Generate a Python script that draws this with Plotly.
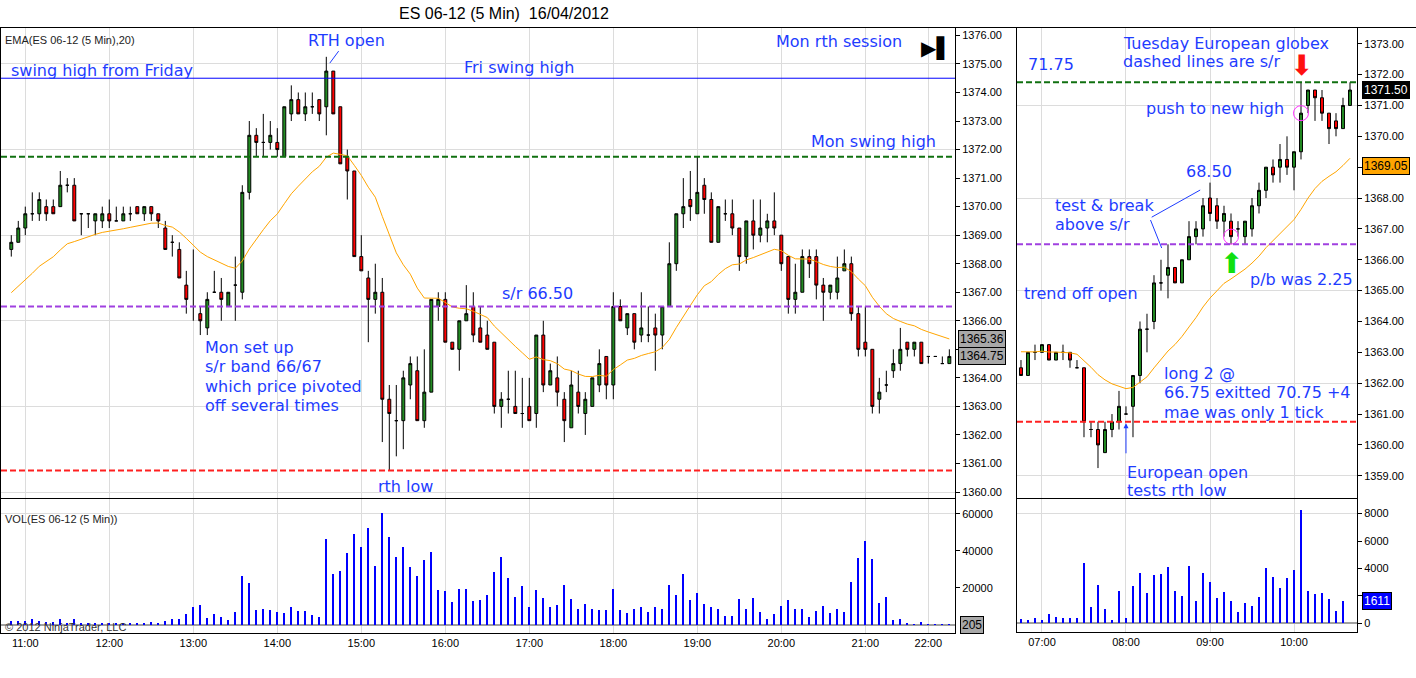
import plotly.graph_objects as go

W, H = 1416, 678

# ---- Monday 16/04/2012, 5 min bars (bar 0 closes 10:50) ----
L_OPEN = [
    1368.5, 1368.75, 1369.25, 1369.75, 1369.75, 1370, 1370, 1370, 1370.75, 1370.75,
    1369.75, 1369.75, 1369.5, 1369.5, 1369.75, 1369.5, 1369.5, 1369.75, 1370, 1369.75,
    1370, 1369.75, 1369.25, 1368.75, 1368.5, 1367.25, 1366.5, 1366.25, 1365.75, 1367,
    1367, 1366.5, 1367.25, 1367, 1370.5, 1372.5, 1372.25, 1372.25, 1372.25, 1371.75,
    1373.25, 1373.75, 1373.25, 1373.5, 1373.75, 1373.5, 1374.75, 1373.5, 1371.75, 1371.25,
    1368.25, 1367.5, 1366.75, 1367, 1363.25, 1362.5, 1362.5, 1363.75, 1364.25, 1362.5,
    1363.5, 1366.5, 1366.75, 1365.25, 1365, 1366, 1366.5, 1365.75, 1365.5, 1365.25,
    1363, 1363.25, 1363, 1362.75, 1363, 1362.75, 1365.5, 1363.75, 1364, 1363.25,
    1362.25, 1363.5, 1362.75, 1363, 1363.75, 1364.75, 1363.75, 1366.5, 1365.75, 1366.25,
    1365.5, 1365.5, 1365.75, 1365.5, 1366.5, 1368, 1369.75, 1370.25, 1369.75, 1370.75,
    1370.25, 1368.75, 1369.75, 1369.75, 1369.25, 1368.25, 1369.5, 1369, 1369.25, 1369.5,
    1369, 1368.25, 1366.75, 1367, 1368.25, 1368.25, 1367.25, 1367, 1367, 1367.75,
    1368, 1366.25, 1365.25, 1365, 1363.25, 1363.75, 1364.25, 1364.5, 1365.25, 1365,
    1365.25, 1364.75, 1364.75, 1364.5, 1364.5,
]
L_HIGH = [
    1369, 1369.5, 1370, 1370.5, 1370.5, 1370.25, 1370.25, 1371.25, 1371, 1371,
    1369.75, 1369.75, 1369.75, 1370, 1370.25, 1370, 1370, 1370, 1370, 1370,
    1370, 1369.75, 1369.5, 1369, 1368.75, 1367.75, 1368.5, 1366.5, 1367, 1367.75,
    1367.5, 1367, 1368.25, 1370.75, 1373, 1372.75, 1373.25, 1373, 1372.75, 1373.5,
    1374.25, 1374, 1374, 1374, 1373.75, 1375.25, 1374.75, 1373.5, 1372, 1371.25,
    1369, 1367.75, 1368, 1367.5, 1363.75, 1363.75, 1364.25, 1364.75, 1364.75, 1365,
    1366.75, 1367, 1367, 1365.25, 1366, 1367.25, 1367, 1366.5, 1366, 1365.25,
    1363.5, 1364.25, 1364.25, 1364, 1364, 1365.5, 1366, 1364.5, 1364.75, 1363.5,
    1364.25, 1364.25, 1363.5, 1364, 1365, 1364.75, 1367, 1366.75, 1366.25, 1366.25,
    1367, 1366.5, 1366.25, 1366.5, 1368.75, 1369.75, 1371, 1371.25, 1371.75, 1371,
    1370.5, 1370, 1370.25, 1370.25, 1369.25, 1369.5, 1370.25, 1370.25, 1369.75, 1370.5,
    1369, 1368.25, 1368, 1368.5, 1368.5, 1368.5, 1367.5, 1367.25, 1368.25, 1368.5,
    1368.25, 1366.5, 1366.5, 1365, 1364, 1364.25, 1365, 1365.75, 1365.25, 1365.25,
    1365.25, 1364.75, 1364.75, 1364.75, 1365,
]
L_LOW = [
    1368.25, 1368.75, 1369, 1369.5, 1369.5, 1369.5, 1369.75, 1370, 1370.5, 1369.5,
    1369, 1369.25, 1369, 1369.25, 1369.25, 1369.5, 1369.5, 1369.5, 1369.75, 1369.5,
    1369.5, 1369.25, 1368.5, 1368.25, 1367.5, 1366.25, 1366, 1365.5, 1365.5, 1367,
    1366, 1366.5, 1366, 1366.75, 1370.25, 1371.75, 1371.75, 1372, 1371.75, 1371.75,
    1373, 1373.25, 1373, 1373.25, 1373, 1372.5, 1373.25, 1371.5, 1370.25, 1368.25,
    1367.75, 1365.25, 1366.25, 1361.75, 1360.75, 1361.25, 1361.5, 1363.25, 1362.5, 1362.25,
    1363.5, 1366, 1365.25, 1365, 1364.25, 1366, 1365.25, 1365.25, 1365, 1362.75,
    1362.25, 1362.75, 1362.75, 1362.25, 1362.5, 1362.25, 1363.5, 1363.75, 1363, 1361.75,
    1362.25, 1362.75, 1362, 1363, 1363.5, 1363.25, 1363.25, 1366, 1365.5, 1365,
    1365.25, 1365.25, 1364.25, 1365, 1366.5, 1367.75, 1369.25, 1369.5, 1369.75, 1369.75,
    1368.75, 1368.75, 1369.5, 1369, 1367.75, 1368, 1368.5, 1368.75, 1368.75, 1369,
    1367.75, 1366.25, 1366.25, 1367, 1367.5, 1366.75, 1366, 1366.75, 1366.75, 1367.75,
    1366, 1364.75, 1364.75, 1362.75, 1362.75, 1363.5, 1364, 1364.25, 1364.75, 1364.75,
    1364.5, 1364.5, 1364.75, 1364.5, 1364.5,
]
L_CLOSE = [
    1368.75, 1369.25, 1369.75, 1369.75, 1370.25, 1369.75, 1369.75, 1370.75, 1370.75, 1369.5,
    1369.75, 1369.75, 1369.75, 1369.75, 1369.5, 1369.5, 1369.75, 1369.75, 1369.75, 1370,
    1369.75, 1369.5, 1368.5, 1368.75, 1367.5, 1366.75, 1366.5, 1366, 1366.75, 1367,
    1366.75, 1367, 1367.25, 1370.5, 1372.5, 1372.25, 1372.25, 1372.5, 1372, 1373.5,
    1373.75, 1373.25, 1373.5, 1373.5, 1373.25, 1374.75, 1373.25, 1371.5, 1371.25, 1368.25,
    1367.75, 1366.75, 1367, 1363.25, 1362.75, 1362.5, 1364, 1364.5, 1362.5, 1363.5,
    1366.75, 1366.75, 1365.25, 1365, 1366, 1366.25, 1365.5, 1365.25, 1365, 1363,
    1363.25, 1363.25, 1362.75, 1362.75, 1362.5, 1365.5, 1363.75, 1364.25, 1363.5, 1362.5,
    1363.75, 1363, 1363.25, 1364, 1364.5, 1363.75, 1366.5, 1366, 1366.25, 1365.25,
    1365.75, 1365.5, 1365.5, 1366.5, 1368, 1369.75, 1370, 1370, 1370.5, 1370.25,
    1368.75, 1370, 1369.75, 1369.25, 1368.25, 1369.5, 1369, 1369.25, 1369.5, 1369.25,
    1368, 1366.75, 1367, 1368.25, 1368, 1367.25, 1367, 1367.25, 1367.5, 1368,
    1366.25, 1365, 1365, 1363, 1363.5, 1363.75, 1364.5, 1365, 1365, 1365.25,
    1364.5, 1364.75, 1364.75, 1364.5, 1364.75,
]
L_VOL = [
    2000, 2000, 2000, 3200, 2000, 1600, 1600, 3200, 1300, 3200,
    900, 800, 1000, 900, 800, 900, 1000, 900, 1100, 1000,
    1400, 1100, 2100, 3200, 3200, 5900, 9600, 10700, 3700, 5900,
    4500, 2700, 7000, 26300, 22500, 8000, 8600, 8000, 7000, 6400,
    9600, 7500, 7300, 5400, 4500, 46100, 27300, 28900, 38600, 48800,
    42300, 52500, 31600, 60500, 47700, 36400, 41800, 31100, 26300, 34800,
    39600, 18800, 18200, 12300, 19300, 19300, 12900, 13400, 16100, 28400,
    36400, 25200, 15000, 20900, 9600, 18800, 14500, 9600, 10700, 21400,
    13900, 8600, 11300, 8600, 8000, 8000, 19300, 8000, 6400, 8600,
    9600, 7000, 9600, 8600, 21400, 16100, 27300, 13400, 17100, 11300,
    9600, 8600, 4800, 4800, 13900, 8600, 14500, 7000, 3200, 5900,
    10200, 13400, 8600, 8600, 4300, 7500, 10200, 6400, 8600, 7000,
    23000, 35900, 45500, 35400, 11800, 15000, 2700, 3200, 1100, 400,
    1600, 300, 150, 250, 205,
]
L_TICK_POS = [2, 14, 26, 38, 50, 62, 74, 86, 98, 110, 122, 131]
L_TICK_TEXT = ["11:00", "12:00", "13:00", "14:00", "15:00", "16:00",
               "17:00", "18:00", "19:00", "20:00", "21:00", "22:00"]
L_EMA_SEED = 1366.8
L_EMA_TAG = 1365.36

# ---- Tuesday European globex (bar 0 closes 06:45) ----
R_OPEN = [
    1362.5, 1362.25, 1363, 1363, 1363.25, 1362.75, 1363, 1363, 1362.5, 1362.5,
    1360.5, 1360.5, 1359.75, 1360.5, 1360.75, 1361, 1361.25, 1362.25, 1363.75, 1364,
    1365.25, 1365.5, 1365.75, 1365.25, 1366, 1366.75, 1367, 1368, 1367.75, 1367.25,
    1367.25, 1367, 1366.75, 1367, 1367.75, 1368.25, 1369, 1369, 1369.25, 1369,
    1369.5, 1371, 1371.5, 1371.25, 1370.75, 1370.5, 1370.25, 1371,
]
R_HIGH = [
    1362.75, 1363, 1363.25, 1363.25, 1363.25, 1363, 1363.25, 1363, 1362.75, 1362.5,
    1360.75, 1360.75, 1360.75, 1361, 1361.75, 1361.25, 1362.25, 1364, 1364.25, 1365.5,
    1366, 1366.5, 1365.75, 1366, 1367.25, 1367.25, 1368, 1368.5, 1368, 1367.75,
    1367.5, 1367.25, 1367.25, 1368, 1368.5, 1369, 1369.25, 1369.75, 1370, 1369.5,
    1371.75, 1371.5, 1371.5, 1371.5, 1370.75, 1370.75, 1371.25, 1371.75,
]
R_LOW = [
    1362.25, 1362.25, 1362.75, 1363, 1362.75, 1362.75, 1362.75, 1362.5, 1362.5, 1360.25,
    1360.25, 1359.25, 1359.75, 1360.25, 1360.5, 1361, 1360.25, 1362, 1363, 1363.75,
    1365, 1364.75, 1365.25, 1365.25, 1366, 1366.5, 1366.75, 1367.25, 1367, 1366.75,
    1366.5, 1366.75, 1366.5, 1366.75, 1367.5, 1368, 1368.5, 1368.5, 1368.75, 1368.25,
    1369.25, 1370.75, 1370.5, 1370.5, 1369.75, 1370, 1370.25, 1371,
]
R_CLOSE = [
    1362.25, 1363, 1363, 1363.25, 1362.75, 1363, 1363, 1362.75, 1362.5, 1360.75,
    1360.5, 1360, 1360.5, 1360.75, 1361.25, 1361, 1362.25, 1363.75, 1363.75, 1365.25,
    1365.25, 1365.75, 1365.25, 1366, 1366.75, 1367, 1367.75, 1367.5, 1367.25, 1367.5,
    1366.75, 1367, 1367.25, 1367.75, 1368.25, 1369, 1368.75, 1369.25, 1369, 1369.5,
    1370.75, 1371.5, 1371.25, 1370.75, 1370.25, 1370.25, 1371, 1371.5,
]
R_VOL = [
    300, 250, 370, 250, 660, 440, 370, 370, 370, 4400,
    1170, 2780, 1020, 220, 2340, 370, 2710, 3660, 2200, 3510,
    3590, 4100, 2340, 1980, 4170, 1610, 3660, 3000, 1830, 2270,
    1610, 800, 1460, 1240, 1900, 4030, 3370, 2560, 3290, 3880,
    8270, 2340, 2120, 2200, 1760, 880, 1611, None,
]
R_TICK_POS = [3, 15, 27, 39]
R_TICK_TEXT = ["07:00", "08:00", "09:00", "10:00"]
R_EMA_SEED = 1363.1
R_EMA_TAG = 1369.05

# trade marks: entry 66.75 after the 2.25 pullback, exit 70.75
TRADE_BAR = [30, 40]
TRADE_PRICE = [1366.75, 1370.75]

# levels
FRI_SWING_HIGH = 1374.5
MON_SWING_HIGH = 1371.75
SR_LEVEL = 1366.5
RTH_LOW = 1360.75

BLUE = "#1e3cff"
GRID = "#dcdcdc"
TXT = "DejaVu Sans"
AX = "Liberation Sans"


def ema(values, seed, n=20):
    a = 2 / (n + 1)
    out, e = [], seed
    for v in values:
        e += a * (v - e)
        out.append(e)
    return out


def xd(a, b):
    return [a / W, b / W]


def yd(top, bottom):
    return [1 - bottom / H, 1 - top / H]


def note(x, y, text, size=16, color=BLUE, anchor="left", family=TXT):
    return dict(x=x / W, y=1 - y / H, xref="paper", yref="paper", text=text,
                showarrow=False, xanchor=anchor, yanchor="middle",
                font=dict(family=family, size=size, color=color))


def tag(x, yref, yval, text, bg, fg):
    return dict(x=x / W, xref="paper", y=yval, yref=yref, text=text, showarrow=False,
                xanchor="left", yanchor="middle", bgcolor=bg, bordercolor="black",
                borderwidth=1, borderpad=1, font=dict(family=AX, size=12, color=fg))


L_IDX = list(range(len(L_OPEN)))
R_IDX = list(range(len(R_OPEN)))
candle_style = dict(
    increasing=dict(fillcolor="#228b22", line=dict(color="black", width=1)),
    decreasing=dict(fillcolor="#ff0000", line=dict(color="black", width=1)),
    whiskerwidth=0, showlegend=False, hoverinfo="skip",
)

fig = go.Figure()
fig.add_trace(go.Candlestick(x=L_IDX, open=L_OPEN, high=L_HIGH, low=L_LOW, close=L_CLOSE,
                             xaxis="x", yaxis="y", **candle_style))
fig.add_trace(go.Scatter(x=L_IDX, y=ema(L_CLOSE, L_EMA_SEED), mode="lines",
                         line=dict(color="#ffa500", width=1), xaxis="x", yaxis="y", showlegend=False))
fig.add_trace(go.Bar(x=L_IDX, y=L_VOL, width=0.3, marker=dict(color="#0000ff", line=dict(width=0)),
                     xaxis="x2", yaxis="y2", showlegend=False))

fig.add_trace(go.Candlestick(x=R_IDX, open=R_OPEN, high=R_HIGH, low=R_LOW, close=R_CLOSE,
                             xaxis="x3", yaxis="y3", **candle_style))
fig.add_trace(go.Scatter(x=R_IDX, y=ema(R_CLOSE, R_EMA_SEED), mode="lines",
                         line=dict(color="#ffa500", width=1), xaxis="x3", yaxis="y3", showlegend=False))
fig.add_trace(go.Scatter(x=TRADE_BAR, y=TRADE_PRICE, mode="markers",
                         marker=dict(symbol="circle-open", size=15, color="#ff33ff", line=dict(width=1)),
                         xaxis="x3", yaxis="y3", showlegend=False))
fig.add_trace(go.Bar(x=R_IDX, y=R_VOL, width=0.3, marker=dict(color="#0000ff", line=dict(width=0)),
                     xaxis="x4", yaxis="y4", showlegend=False))
# empty traces so the grid-only overlay axes get drawn
for ya, xa in (("y5", "x"), ("y6", "x3"), ("y7", "x2"), ("y8", "x4")):
    fig.add_trace(go.Scatter(x=[], y=[], xaxis=xa, yaxis=ya, showlegend=False))

# horizontal s/r lines
dash = "6px,3px"
for xa, ya, lvl, col, dsh, wd in [
    ("x", "y", FRI_SWING_HIGH, "#0000ff", "solid", 1),
    ("x", "y", MON_SWING_HIGH, "#107010", dash, 2),
    ("x", "y", SR_LEVEL, "#a040e0", dash, 2),
    ("x", "y", RTH_LOW, "#ff2020", dash, 2),
    ("x3", "y3", MON_SWING_HIGH, "#107010", dash, 2),
    ("x3", "y3", SR_LEVEL, "#a040e0", dash, 2),
    ("x3", "y3", RTH_LOW, "#ff2020", dash, 2),
]:
    fig.add_shape(type="line", xref=f"{xa} domain", yref=ya, x0=0, x1=1, y0=lvl, y1=lvl,
                  line=dict(color=col, width=wd, dash=dsh), layer="above")
fig.add_shape(type="line", xref="paper", yref="paper", x0=0, x1=1, y0=1 - 27.5 / H, y1=1 - 27.5 / H,
              line=dict(color="black", width=1))

tickfont = dict(family=AX, size=11, color="black")
frame = dict(showline=True, linecolor="black", linewidth=1, mirror=True, zeroline=False, fixedrange=True)

L_XR = [-1.47, 134.81]
R_XR = [-0.57, 48.0]
L_YR = [1359.79, 1376.26]
R_YR = [1358.28, 1373.51]
L_VR = [-4312, 67914]
R_VR = [-634, 9062]

fig.update_layout(
    width=W, height=H, margin=dict(l=0, r=0, t=0, b=0),
    paper_bgcolor="white", plot_bgcolor="white", showlegend=False,
    boxgap=0.4, bargap=0, hovermode=False,
    xaxis=dict(domain=xd(1, 955), range=L_XR, anchor="y", tickvals=L_TICK_POS, showticklabels=False,
               ticks="", showgrid=True, gridcolor=GRID, rangeslider=dict(visible=False), **frame),
    yaxis=dict(domain=yd(28, 498), range=L_YR, anchor="x", side="right", dtick=1, tickformat=".2f",
               ticks="outside", ticklen=4, tickcolor="black", showgrid=False, tickfont=tickfont, **frame),
    yaxis5=dict(overlaying="y", anchor="x", range=L_YR, tickvals=list(range(1360, 1377, 3)),
                showticklabels=False, ticks="", showgrid=True, gridcolor=GRID, zeroline=False, side="right"),
    xaxis2=dict(domain=xd(1, 955), range=L_XR, anchor="y2", tickvals=L_TICK_POS, ticktext=L_TICK_TEXT,
                ticks="", showgrid=True, gridcolor=GRID, tickfont=tickfont, **frame),
    # the 0 label sits under the last-volume tag, so only the upper values are labelled
    yaxis2=dict(domain=yd(499, 633), range=L_VR, anchor="x2", side="right",
                tickvals=[20000, 40000, 60000], tickformat="d", ticks="outside", ticklen=4,
                tickcolor="black", showgrid=False, tickfont=tickfont,
                showline=True, linecolor="black", mirror=True, fixedrange=True,
                zeroline=True, zerolinecolor="#a0a0a0", zerolinewidth=1.5),
    yaxis7=dict(overlaying="y2", anchor="x2", range=L_VR, tickvals=[60000], showticklabels=False,
                ticks="", showgrid=True, gridcolor=GRID, zeroline=False, side="right"),
    xaxis3=dict(domain=xd(1017, 1357), range=R_XR, anchor="y3", tickvals=R_TICK_POS, showticklabels=False,
                ticks="", showgrid=True, gridcolor=GRID, rangeslider=dict(visible=False), **frame),
    yaxis3=dict(domain=yd(28, 498), range=R_YR, anchor="x3", side="right", dtick=1, tickformat=".2f",
                ticks="outside", ticklen=4, tickcolor="black", showgrid=False, tickfont=tickfont, **frame),
    yaxis6=dict(overlaying="y3", anchor="x3", range=R_YR, tickvals=list(range(1359, 1374, 3)),
                showticklabels=False, ticks="", showgrid=True, gridcolor=GRID, zeroline=False, side="right"),
    xaxis4=dict(domain=xd(1017, 1357), range=R_XR, anchor="y4", tickvals=R_TICK_POS, ticktext=R_TICK_TEXT,
                ticks="", showgrid=True, gridcolor=GRID, tickfont=tickfont, **frame),
    yaxis4=dict(domain=yd(499, 632), range=R_VR, anchor="x4", side="right",
                tickvals=[0, 2000, 4000, 6000, 8000], tickformat="d", ticks="outside", ticklen=4,
                tickcolor="black", showgrid=False, tickfont=tickfont,
                showline=True, linecolor="black", mirror=True, fixedrange=True,
                zeroline=True, zerolinecolor="#a0a0a0", zerolinewidth=1.5),
    yaxis8=dict(overlaying="y4", anchor="x4", range=R_VR, tickvals=[8000], showticklabels=False,
                ticks="", showgrid=True, gridcolor=GRID, zeroline=False, side="right"),
)

notes = [
    note(504, 14, "ES 06-12 (5 Min)\u00a0 16/04/2012", size=16, color="black", anchor="center", family=AX),
    note(3, 40, "EMA(ES 06-12 (5 Min),20)", size=11, color="#222", family=AX),
    note(3, 519, "VOL(ES 06-12 (5 Min))", size=11, color="#222", family=AX),
    note(3, 627, "© 2012 NinjaTrader, LLC", size=11, color="#333", family=AX),
    note(9, 70, "swing high from Friday"),
    note(462, 68, "Fri swing high"),
    note(774, 42, "Mon rth session"),
    note(936, 48, "▶▌", size=20, color="black", anchor="center"),
    note(809, 142, "Mon swing high"),
    note(500, 293, "s/r 66.50"),
    note(376, 486, "rth low"),
    note(1121, 43, "Tuesday European globex"),
    note(1121, 62, "dashed lines are s/r"),
    note(1026, 65, "71.75"),
    note(1144, 108, "push to new high"),
    note(1184, 171, "68.50"),
    note(1053, 206, "test &amp; break"),
    note(1053, 225, "above s/r"),
    note(1022, 293, "trend off open"),
    note(1248, 279, "p/b was 2.25"),
    note(1162, 373, "long 2 @"),
    note(1162, 392, "66.75 exitted 70.75 +4"),
    note(1162, 412, "mae was only 1 tick"),
    note(1125, 472, "European open"),
    note(1125, 490, "tests rth low"),
]
for i, line in enumerate(["Mon set up", "s/r band 66/67", "which price pivoted", "off several times"]):
    notes.append(note(203, 347 + i * 19.5, line))

arrows = [
    dict(x=45.5, y=1375.03, xref="x", yref="y", ax=17, ay=-23, text="RTH open",
         font=dict(family=TXT, size=16, color=BLUE)),
    dict(x=20.1, y=1366.38, xref="x3", yref="y3", ax=-12, ay=-30, text=" ", font=dict(size=1)),
    dict(x=25.6, y=1368.26, xref="x3", yref="y3", ax=-50, ay=28, text=" ", font=dict(size=1)),
]
for a in arrows:
    a.update(showarrow=True, arrowhead=0, arrowwidth=1, arrowcolor=BLUE, standoff=0)
arrows.append(dict(x=15, y=1360.7, xref="x3", yref="y3", ax=0, ay=32, text=" ", font=dict(size=1),
                   showarrow=True, arrowhead=2, arrowsize=1, arrowwidth=1, arrowcolor=BLUE))
arrows.append(dict(x=TRADE_BAR[1], y=1372.28, xref="x3", yref="y3", text="⬇", showarrow=False,
                   font=dict(family=TXT, size=28, color="#ff1010")))
arrows.append(dict(x=TRADE_BAR[0], y=1365.89, xref="x3", yref="y3", text="⬆", showarrow=False,
                   font=dict(family=TXT, size=28, color="#10e010")))

tags = [
    tag(958, "y", L_EMA_TAG, f"{L_EMA_TAG:.2f}", "#a8a8a8", "black"),
    tag(958, "y", L_CLOSE[-1], f"{L_CLOSE[-1]:.2f}", "#a8a8a8", "black"),
    tag(960, "y2", 0, str(L_VOL[-1]), "#a8a8a8", "black"),
    tag(1362, "y3", R_CLOSE[-1], f"{R_CLOSE[-1]:.2f}", "black", "white"),
    tag(1362, "y3", R_EMA_TAG, f"{R_EMA_TAG:.2f}", "#ffa500", "black"),
    tag(1362, "y4", 1611, "1611", "#0000ff", "white"),
]

fig.update_layout(annotations=notes + arrows + tags)

# the page body has a default 8px margin; drop it so the figure sits at the window's corner
fig.write_html("out.html", config={"displayModeBar": False},
               post_script="document.body.style.margin='0px';")
